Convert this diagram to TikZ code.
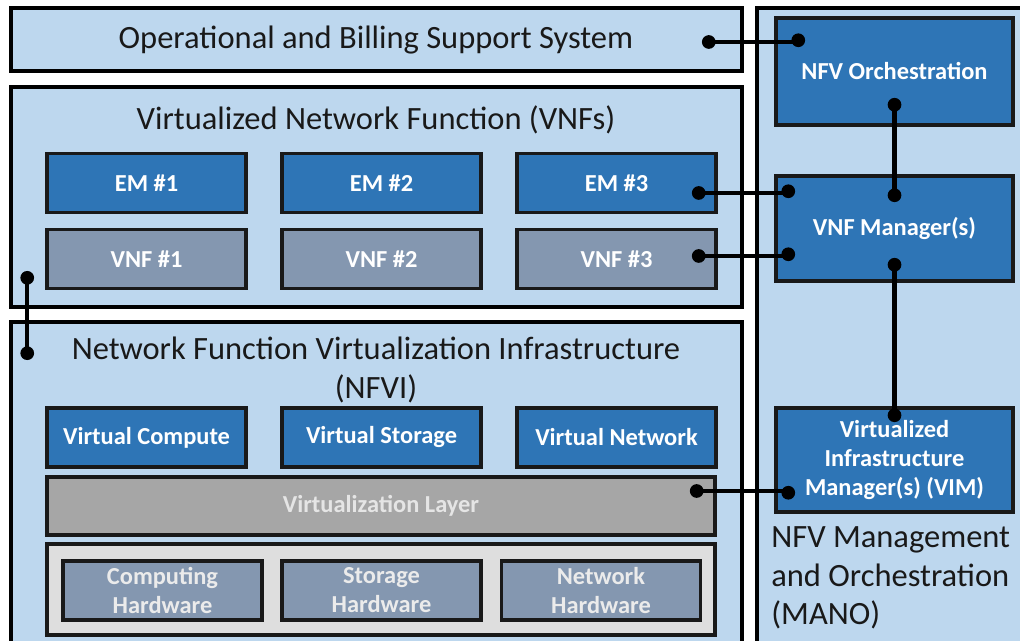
\documentclass[tikz,border=0pt]{standalone}
\usepackage{fontspec}
\setmainfont{Carlito}
\usetikzlibrary{calc}
\definecolor{paneblue}{HTML}{BDD7EE}
\definecolor{fnblue}{HTML}{2E75B6}
\definecolor{vnfgray}{HTML}{8497B0}
\definecolor{layergray}{HTML}{A6A6A6}
\definecolor{hwshell}{HTML}{DEDEDE}
\tikzset{panel/.style={draw=black,line width=2.1pt,fill=paneblue,inner sep=0pt},
 title/.style={font=\fontsize{18.5}{22}\selectfont,text=black!90,align=center},
 fnbox/.style={draw=black!90,line width=2pt,fill=fnblue,text=white,inner sep=1pt,align=center,
  font=\bfseries\fontsize{13.9}{16.5}\selectfont,minimum width=3.98cm,minimum height=1.18cm},
 link/.style={line width=2.3pt}}
\newcommand{\joint}[1]{\fill (#1) circle (3.9pt);}

\begin{document}
\begin{tikzpicture}[x=0.02cm,y=-0.02cm]
\path[use as bounding box,clip] (0,0) rectangle (1020,641);
% outer panels
\node[panel,minimum width=14.62cm,minimum height=1.26cm] (oss) at (376.5,39.5) {};
\node[panel,minimum width=14.62cm,minimum height=4.4cm] (vnfp) at (376.5,197) {};
\node[panel,minimum width=14.62cm,minimum height=6.76cm] (nfvip) at (376.5,491) {};
\node[panel,minimum width=5.46cm,minimum height=13.04cm] (mano) at (893.5,334) {};
\node[title] (osst) at (376,40) {Operational and Billing Support System};
\node[title] (vnft) at (376,120) {Virtualized Network Function (VNFs)};
\node[title] (nfvit) at (376,370) {Network Function Virtualization Infrastructure\\(NFVI)};
\node[title,align=left,anchor=west,inner sep=0pt] (manot) at (771,578) {NFV Management\\and Orchestration\\(MANO)};
% VNF panel
\foreach \i/\x in {1/146.5,2/381.5,3/616.5} {
 \node[fnbox] (em\i) at (\x,183) {EM \#\i};
 \node[fnbox,fill=vnfgray] (vnf\i) at (\x,259) {VNF \#\i};
}
% NFVI panel
\foreach \n/\x/\t in {vc/146.5/Compute,vs/381.5/Storage,vn/616.5/Network}
 \node[fnbox] (\n) at (\x,437.5) {Virtual \t};
\node[fnbox,fill=layergray,text=white!90!black,minimum width=13.36cm,minimum height=1.16cm] (layer) at (381,506) {Virtualization Layer};
\node[draw=black!90,line width=2pt,fill=hwshell,minimum width=13.36cm,minimum height=1.82cm] (hw) at (381,589.5) {};
\foreach \n/\x/\t in {ch/162.5/Computing,sh/381.5/Storage,nh/601/Network}
 \node[fnbox,fill=vnfgray,text=white!92!black] (\n) at (\x,590.5) {\t\\Hardware};
% MANO panel
\node[fnbox,minimum width=4.74cm,minimum height=2.14cm] (nfvo) at (894.5,71.5) {NFV Orchestration};
\node[fnbox,minimum width=4.74cm,minimum height=2.1cm] (vnfm) at (894.5,228.5) {VNF Manager(s)};
\node[fnbox,minimum width=4.74cm,minimum height=2.08cm] (vim) at (894.5,460) {Virtualized\\Infrastructure\\Manager(s) (VIM)};
% reference points
\coordinate (ossR) at ($(oss.east)+(-35,2.5)$);
\coordinate (nfvoL) at ($(nfvo.north west)+(24,24)$);
\coordinate (nfvoB) at ($(nfvo.south)+(0,-22)$);
\coordinate (vnfmT) at ($(vnfm.north)+(0,21)$);
\coordinate (vnfmB) at ($(vnfm.south)+(0,-18)$);
\coordinate (vnfmL1) at ($(vnfm.north west)+(14,17)$);
\coordinate (vnfmL2) at ($(vnfm.north west)+(14,80)$);
\coordinate (em3R) at ($(em3.east)+(-19,10)$);
\coordinate (vnf3R) at ($(vnf3.east)+(-19,-3)$);
\coordinate (vimT) at ($(vim.north)+(0,9)$);
\coordinate (vimL) at ($(vim.south west)+(14,-21)$);
\coordinate (layerR) at ($(layer.east)+(-20,-15)$);
\coordinate (vnfpB) at ($(vnfp.south west)+(18,-31)$);
\coordinate (nfvipT) at ($(nfvip.north west)+(18,33)$);
% reference points joined
\draw[link] (ossR) -- (ossR -| nfvoL);
\draw[link] (nfvoB) -- (vnfmT);
\draw[link] (em3R) -- (em3R -| vnfmL1);
\draw[link] (vnf3R) -- (vnf3R -| vnfmL2);
\draw[link] (vnfmB) -- (vimT);
\draw[link] (layerR) -- (layerR -| vimL);
\draw[link] (vnfpB) -- (nfvipT);
\foreach \p in {ossR,nfvoL,nfvoB,vnfmT,vnfmB,vnfmL1,vnfmL2,em3R,vnf3R,vimT,vimL,layerR,vnfpB,nfvipT}
 {\joint{\p}}
\end{tikzpicture}
\end{document}
